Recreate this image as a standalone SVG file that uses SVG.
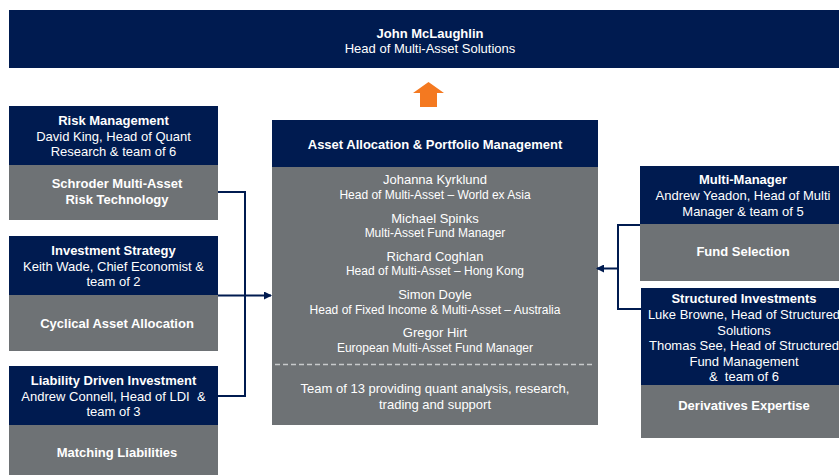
<svg xmlns="http://www.w3.org/2000/svg" width="839" height="475" viewBox="0 0 839 475">
  <style>
    .navy { fill: #001b50; }
    .grey { fill: #6e7275; }
    text { font-family: "Liberation Sans", Arial, sans-serif; fill: #ffffff; text-anchor: middle; font-size: 13px; }
    .b { font-weight: bold; }
    .sub { font-size: 12px; }
    .conn { fill: none; stroke: #001b50; stroke-width: 2; }
  </style>
  <defs>
    <marker id="arrow" viewBox="0 0 8 8" refX="7" refY="4" markerWidth="4" markerHeight="4" orient="auto" markerUnits="strokeWidth">
      <path d="M0,0 L8,4 L0,8 Z" fill="#001b50"/>
    </marker>
  </defs>
  <rect width="839" height="475" fill="#ffffff"/>

  <!-- Head of Multi-Asset Solutions -->
  <g id="head">
    <rect class="navy" x="9" y="10" width="842" height="58"/>
    <text x="430" y="37.5" class="b">John McLaughlin</text>
    <text x="430" y="52.5">Head of Multi-Asset Solutions</text>
  </g>

  <!-- reporting line upwards -->
  <g id="up-arrow">
    <path d="M428.5,82 L444,93 L437,93 L437,107 L420,107 L420,93 L413,93 Z" fill="#f47920"/>
  </g>

  <!-- Left column -->
  <g id="risk-management">
    <rect class="navy" x="9" y="106" width="209" height="59"/>
    <rect class="grey" x="9" y="165" width="209" height="55"/>
    <text x="113.5" y="125" class="b">Risk Management</text>
    <text x="113.5" y="140.5">David King, Head of Quant</text>
    <text x="113.5" y="156">Research &amp; team of 6</text>
    <text x="117" y="188" class="b">Schroder Multi-Asset</text>
    <text x="117" y="204" class="b">Risk Technology</text>
  </g>

  <g id="investment-strategy">
    <rect class="navy" x="9" y="236" width="209" height="59"/>
    <rect class="grey" x="9" y="295" width="209" height="56"/>
    <text x="113.5" y="255" class="b">Investment Strategy</text>
    <text x="113.5" y="271">Keith Wade, Chief Economist &amp;</text>
    <text x="113.5" y="286">team of 2</text>
    <text x="117" y="327.5" class="b">Cyclical Asset Allocation</text>
  </g>

  <g id="liability-driven-investment">
    <rect class="navy" x="9" y="366" width="209" height="59"/>
    <rect class="grey" x="9" y="425" width="209" height="55"/>
    <text x="113.5" y="385" class="b">Liability Driven Investment</text>
    <text x="113.5" y="401" xml:space="preserve">Andrew Connell, Head of LDI  &amp;</text>
    <text x="113.5" y="416">team of 3</text>
    <text x="117" y="457" class="b">Matching Liabilities</text>
  </g>

  <!-- Centre team -->
  <g id="asset-allocation">
    <rect class="navy" x="272" y="120" width="326" height="47"/>
    <rect class="grey" x="272" y="167" width="326" height="258"/>
    <text x="435" y="149" class="b">Asset Allocation &amp; Portfolio Management</text>
    <text x="435" y="184">Johanna Kyrklund</text>
    <text x="435" y="198.5" class="sub">Head of Multi-Asset – World ex Asia</text>
    <text x="435" y="223">Michael Spinks</text>
    <text x="435" y="237" class="sub">Multi-Asset Fund Manager</text>
    <text x="435" y="260.5">Richard Coghlan</text>
    <text x="435" y="274.5" class="sub">Head of Multi-Asset – Hong Kong</text>
    <text x="435" y="299">Simon Doyle</text>
    <text x="435" y="314" class="sub">Head of Fixed Income &amp; Multi-Asset – Australia</text>
    <text x="435" y="337">Gregor Hirt</text>
    <text x="435" y="352" class="sub">European Multi-Asset Fund Manager</text>
    <line x1="275" y1="364.5" x2="594" y2="364.5" stroke="#c8cacc" stroke-width="1.3" stroke-dasharray="5,3"/>
    <text x="435" y="393">Team of 13 providing quant analysis, research,</text>
    <text x="435" y="408.5">trading and support</text>
  </g>

  <!-- Right column -->
  <g id="multi-manager">
    <rect class="navy" x="640" y="166" width="207" height="58"/>
    <rect class="grey" x="640" y="224" width="207" height="57"/>
    <text x="743" y="184" class="b">Multi-Manager</text>
    <text x="743" y="200">Andrew Yeadon, Head of Multi</text>
    <text x="743" y="215.5">Manager &amp; team of 5</text>
    <text x="743" y="256" class="b">Fund Selection</text>
  </g>

  <g id="structured-investments">
    <rect class="navy" x="641" y="288" width="206" height="97"/>
    <rect class="grey" x="641" y="385" width="206" height="53"/>
    <text x="744" y="303" class="b">Structured Investments</text>
    <text x="744" y="319">Luke Browne, Head of Structured</text>
    <text x="744" y="334.5">Solutions</text>
    <text x="744" y="350">Thomas See, Head of Structured</text>
    <text x="744" y="365.5">Fund Management</text>
    <text x="744" y="381" xml:space="preserve">&amp;  team of 6</text>
    <text x="744" y="410" class="b">Derivatives Expertise</text>
  </g>

  <!-- Connectors -->
  <g id="connectors">
    <path class="conn" d="M218,192 H245 V396 H218"/>
    <path class="conn" d="M218,295.5 H271" marker-end="url(#arrow)"/>
    <path class="conn" d="M640,225 H618 V309 H641"/>
    <path class="conn" d="M618,268.5 H597" marker-end="url(#arrow)"/>
  </g>
</svg>
